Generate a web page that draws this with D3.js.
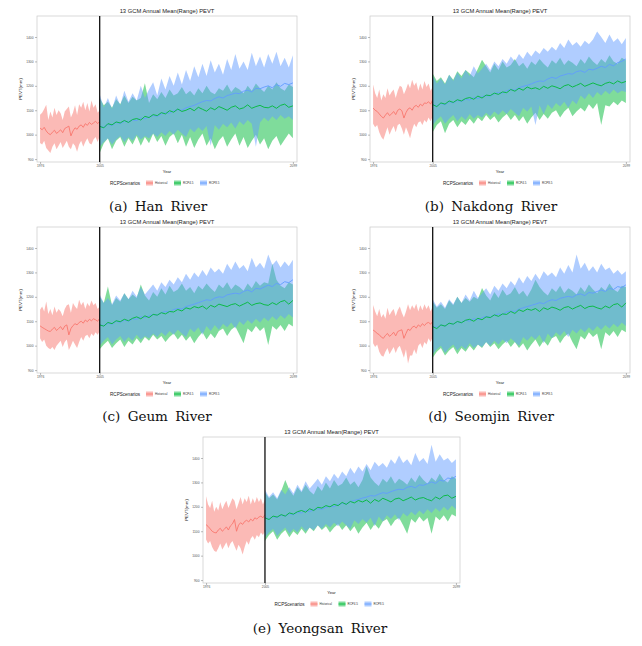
<!DOCTYPE html>
<html><head><meta charset="utf-8">
<script src="https://cdn.jsdelivr.net/npm/d3@7"></script>
<style>body{margin:0;background:#fff}svg{display:block}</style>
</head><body>
<svg id="c" width="642" height="646"></svg>
<script>
const histYears = d3.range(1976, 2006);
const futYears = d3.range(2005, 2100, 2);
const xTicks = [1976, 2005, 2099];
const yTicks = [900, 1000, 1100, 1200, 1300, 1400];
const scenarios = ["Historical", "RCP4.5", "RCP8.5"];
const scenColors = ["#F8766D", "#00BA38", "#619CFF"];
const chartTitle = "13 GCM Annual Mean(Range) PEVT";
const captions = ["(a) Han River", "(b) Nakdong River", "(c) Geum River", "(d) Seomjin River", "(e) Yeongsan River"];

// (a) Han River
const hanHistMean = [1027,1020,1030,1015,1005,1000,1010,1018,1005,1012,1020,1008,1025,1030,1035,995,1015,1028,1022,1035,1040,1030,1045,1038,1050,1042,1048,1055,1045,1054];
const hanHistLo = [966,960,975,945,935,925,950,965,940,955,970,945,960,975,950,940,965,955,930,960,975,950,970,985,965,960,980,990,970,995];
const hanHistHi = [1082,1090,1105,1122,1060,1095,1070,1110,1080,1100,1088,1060,1095,1105,1115,1070,1090,1120,1080,1125,1110,1135,1100,1130,1095,1140,1110,1125,1090,1100];
const hanR45Mean = [1034,1028,1045,1040,1052,1048,1058,1050,1062,1066,1060,1075,1070,1082,1078,1090,1085,1098,1092,1105,1095,1100,1108,1098,1112,1104,1096,1110,1102,1115,1108,1100,1112,1118,1105,1110,1122,1108,1115,1120,1112,1110,1118,1108,1120,1125,1112,1118];
const hanR45Lo = [925,965,985,940,975,990,950,985,960,995,955,990,965,1005,970,995,955,990,1005,965,1000,950,990,945,980,1005,955,985,940,975,995,950,980,1005,955,990,945,975,1000,960,985,940,975,995,955,980,1005,985];
const hanR45Hi = [1150,1120,1135,1110,1145,1125,1160,1130,1155,1140,1150,1211,1130,1165,1145,1175,1150,1185,1160,1170,1195,1165,1180,1160,1190,1170,1200,1175,1165,1190,1180,1205,1175,1195,1185,1170,1200,1180,1210,1190,1175,1200,1185,1215,1190,1180,1205,1195];
const hanR85Mean = [1034,1030,1042,1038,1050,1045,1055,1052,1060,1058,1068,1065,1072,1078,1075,1085,1090,1088,1098,1102,1100,1110,1115,1120,1128,1135,1140,1138,1148,1155,1150,1160,1165,1170,1168,1178,1182,1175,1190,1188,1195,1200,1192,1205,1198,1210,1205,1212];
const hanR85Lo = [950,970,985,960,980,995,970,990,975,1000,980,995,985,1005,990,1010,995,1015,1000,1020,1005,990,1025,1010,1030,1015,1035,955,1040,1020,1045,1030,1050,1025,1055,1040,1060,1045,950,1050,1070,1055,1075,1060,1080,1065,1075,1060];
const hanR85Hi = [1165,1110,1150,1105,1160,1120,1180,1135,1170,1140,1200,1150,1185,1215,1160,1230,1185,1240,1200,1255,1205,1265,1220,1280,1235,1290,1240,1305,1255,1290,1245,1310,1265,1330,1270,1300,1265,1335,1280,1320,1275,1330,1290,1340,1280,1315,1275,1325];

// (b) Nakdong River
const nakHistMean = [1109,1100,1095,1085,1075,1068,1080,1090,1078,1085,1095,1082,1100,1105,1098,1068,1090,1105,1110,1100,1115,1120,1112,1125,1118,1130,1128,1135,1125,1143];
const nakHistLo = [1045,1030,1040,1010,990,979,1005,1030,1000,1020,1035,1010,1040,1045,1025,1000,1030,1010,985,1020,1045,1030,1050,1055,1040,1060,1050,1070,1055,1075];
const nakHistHi = [1205,1170,1150,1185,1140,1165,1150,1190,1160,1175,1185,1150,1180,1200,1195,1165,1185,1210,1190,1225,1200,1215,1180,1210,1185,1220,1195,1210,1180,1195];
const nakR45Mean = [1123,1115,1130,1125,1138,1132,1143,1138,1148,1152,1145,1158,1150,1162,1160,1170,1165,1175,1172,1185,1178,1190,1182,1195,1188,1192,1185,1198,1190,1200,1195,1188,1200,1205,1195,1202,1210,1198,1205,1212,1205,1200,1210,1215,1208,1220,1212,1218];
const nakR45Lo = [1010,1040,1055,1006,1045,1060,1030,1055,1040,1065,1045,1070,1055,1080,1060,1075,1050,1070,1085,1060,1080,1055,1075,1045,1070,1090,1060,1085,1065,1090,1100,1070,1095,1110,1075,1095,1110,1095,1125,1105,1130,1040,1120,1115,1135,1120,1140,1130];
const nakR45Hi = [1250,1220,1235,1210,1245,1225,1260,1240,1265,1250,1235,1270,1307,1280,1255,1290,1265,1300,1275,1285,1310,1280,1295,1270,1300,1285,1310,1290,1275,1305,1290,1315,1285,1305,1295,1280,1310,1290,1320,1300,1285,1310,1295,1325,1300,1290,1315,1305];
const nakR85Mean = [1123,1118,1128,1122,1135,1130,1140,1136,1145,1142,1152,1148,1155,1160,1158,1168,1172,1170,1180,1185,1182,1192,1198,1202,1208,1215,1220,1218,1228,1235,1230,1240,1245,1250,1248,1258,1262,1255,1268,1265,1272,1280,1275,1288,1282,1295,1300,1310];
const nakR85Lo = [1040,1060,1075,1045,1065,1080,1055,1075,1060,1085,1065,1080,1070,1090,1075,1095,1080,1100,1085,1105,1090,1075,1110,1095,1115,1040,1120,1085,1125,1105,1130,1115,1135,1110,1140,1125,1160,1145,1170,1150,1175,1160,1180,1165,1185,1170,1180,1175];
const nakR85Hi = [1240,1210,1230,1205,1245,1220,1255,1230,1265,1240,1280,1250,1270,1290,1265,1300,1280,1310,1290,1320,1300,1330,1310,1340,1320,1345,1330,1355,1340,1360,1345,1375,1355,1390,1365,1380,1360,1385,1370,1390,1423,1400,1375,1410,1380,1395,1370,1396];

// (c) Geum River
const geuHistMean = [1081,1075,1070,1065,1060,1058,1068,1075,1062,1070,1078,1065,1080,1085,1044,1070,1082,1090,1085,1095,1100,1092,1105,1098,1108,1102,1110,1106,1100,1112];
const geuHistLo = [1030,1015,1025,1000,990,985,995,982,1000,1010,1020,995,1015,1025,982,1000,1020,1005,990,1015,1035,1020,1040,1045,1030,1050,1040,1055,1045,1060];
const geuHistHi = [1147,1160,1140,1181,1130,1150,1125,1160,1135,1150,1140,1120,1150,1165,1170,1135,1175,1160,1150,1188,1165,1180,1150,1175,1160,1185,1165,1175,1150,1160];
const geuR45Mean = [1085,1080,1095,1090,1102,1098,1108,1102,1112,1118,1110,1122,1115,1128,1125,1135,1130,1140,1138,1148,1142,1155,1150,1160,1155,1162,1150,1165,1158,1170,1165,1160,1168,1172,1162,1170,1178,1165,1172,1175,1168,1165,1176,1168,1180,1185,1170,1185];
const geuR45Lo = [985,1005,1020,990,1010,1025,995,1020,1005,1030,1010,1035,1020,1045,1025,1040,1015,1035,1050,1025,1045,1020,1040,1010,1035,1055,1025,1050,1030,1060,1070,1040,1065,1078,1045,1010,1070,1055,1080,1060,1075,1003,1080,1065,1085,1060,1090,1078];
const geuR45Hi = [1200,1175,1242,1165,1195,1180,1215,1190,1210,1195,1250,1205,1185,1220,1200,1235,1210,1245,1220,1230,1255,1225,1240,1215,1245,1230,1255,1235,1220,1250,1235,1260,1230,1250,1240,1225,1255,1235,1265,1245,1260,1255,1335,1270,1245,1235,1260,1250];
const geuR85Mean = [1085,1082,1092,1088,1100,1095,1105,1100,1110,1108,1118,1115,1122,1128,1125,1135,1140,1138,1148,1152,1150,1160,1165,1170,1176,1182,1188,1185,1195,1200,1198,1208,1212,1215,1212,1222,1228,1220,1235,1232,1240,1248,1242,1255,1250,1262,1258,1270];
const geuR85Lo = [1000,1020,1035,1005,1025,1040,1015,1035,1020,1045,1025,1040,1030,1050,1035,1055,1040,1060,1045,1065,1050,1035,1070,1055,1075,1045,1080,1060,1085,1065,1090,1075,1095,1070,1100,1085,1105,1090,1110,1095,1115,1100,1120,1105,1125,1110,1130,1115];
const geuR85Hi = [1210,1175,1195,1170,1205,1185,1215,1190,1225,1200,1240,1210,1230,1250,1225,1260,1240,1270,1250,1280,1260,1295,1270,1300,1280,1310,1285,1320,1300,1315,1295,1335,1310,1345,1315,1330,1305,1360,1320,1340,1315,1373,1330,1350,1320,1345,1325,1352];

// (d) Seomjin River
const seoHistMean = [1064,1058,1050,1045,1035,1030,1042,1050,1038,1045,1055,1040,1058,1062,1065,1030,1050,1068,1062,1075,1080,1072,1085,1078,1090,1082,1092,1095,1088,1099];
const seoHistLo = [1010,995,1005,975,960,955,975,990,965,980,995,970,990,1000,975,950,985,927,960,960,985,965,1000,1010,990,1015,1005,1030,1015,1035];
const seoHistHi = [1167,1140,1120,1150,1115,1130,1110,1155,1125,1140,1150,1120,1145,1160,1135,1115,1140,1170,1145,1165,1150,1172,1140,1165,1145,1170,1150,1165,1140,1160];
const seoR45Mean = [1078,1070,1085,1080,1092,1088,1099,1094,1104,1108,1100,1112,1106,1118,1115,1126,1120,1130,1128,1140,1132,1147,1140,1150,1145,1152,1140,1155,1148,1158,1153,1145,1156,1160,1150,1158,1165,1152,1160,1162,1155,1150,1162,1155,1168,1172,1158,1175];
const seoR45Lo = [950,975,990,960,980,995,965,990,975,1000,980,1005,990,1015,995,1010,985,1005,1020,995,1015,990,1010,980,1005,1025,995,1020,1000,1030,1040,1010,1035,1050,1015,985,1040,1025,1055,1035,1050,985,1055,1040,1060,1035,1065,1055];
const seoR45Hi = [1180,1155,1170,1150,1185,1165,1200,1175,1195,1180,1200,1190,1236,1205,1185,1220,1195,1230,1205,1215,1240,1210,1225,1200,1230,1270,1240,1220,1205,1235,1220,1245,1215,1235,1225,1210,1240,1220,1250,1230,1215,1240,1225,1255,1230,1220,1245,1240];
const seoR85Mean = [1078,1075,1085,1080,1092,1088,1098,1094,1104,1100,1110,1106,1114,1120,1116,1126,1130,1128,1138,1142,1140,1150,1155,1160,1165,1170,1176,1172,1182,1188,1185,1194,1198,1202,1198,1208,1212,1205,1218,1215,1222,1228,1222,1235,1230,1242,1238,1249];
const seoR85Lo = [965,985,1000,970,990,1005,980,1000,985,1010,990,1005,995,1015,1000,1020,1005,1025,1010,1030,1015,1000,1035,1020,1040,1025,1045,1010,1050,1030,1055,1040,1060,1035,1065,1050,1070,1055,1075,1060,1080,1065,1085,1070,1090,1075,1095,1080];
const seoR85Hi = [1190,1160,1180,1155,1190,1170,1200,1175,1210,1185,1225,1195,1215,1235,1210,1245,1225,1255,1235,1265,1245,1280,1255,1285,1265,1295,1270,1305,1285,1300,1280,1320,1295,1330,1300,1373,1315,1340,1305,1325,1300,1335,1310,1320,1295,1310,1290,1305];

// (e) Yeongsan River
const yeoHistMean = [1127,1120,1110,1100,1095,1093,1105,1112,1100,1108,1118,1105,1122,1130,1148,1100,1125,1135,1128,1140,1145,1138,1150,1142,1155,1150,1158,1162,1155,1168];
const yeoHistLo = [1066,1050,1060,1035,1020,1015,1030,1050,1025,1040,1055,1030,1050,1060,1040,1020,1045,1030,1005,1035,1060,1045,1070,1080,1065,1085,1075,1095,1085,1100];
const yeoHistHi = [1243,1210,1195,1225,1180,1200,1185,1220,1190,1210,1225,1195,1215,1235,1225,1190,1215,1240,1210,1235,1220,1245,1210,1235,1215,1240,1220,1235,1210,1230];
const yeoR45Mean = [1155,1148,1162,1158,1168,1162,1175,1170,1180,1185,1178,1192,1185,1198,1195,1205,1200,1210,1205,1218,1210,1222,1216,1226,1220,1228,1215,1230,1222,1235,1228,1220,1232,1236,1225,1232,1240,1228,1235,1238,1230,1225,1240,1232,1245,1248,1235,1243];
const yeoR45Lo = [1060,1085,1100,1065,1090,1105,1075,1100,1085,1110,1090,1115,1100,1125,1105,1120,1095,1115,1130,1105,1125,1100,1120,1090,1115,1135,1105,1130,1110,1140,1150,1120,1145,1155,1125,1090,1150,1135,1160,1140,1155,1090,1160,1145,1165,1140,1170,1160];
const yeoR45Hi = [1260,1235,1250,1230,1265,1310,1270,1245,1280,1260,1290,1265,1250,1285,1265,1300,1275,1310,1285,1295,1320,1290,1305,1280,1310,1366,1320,1300,1285,1315,1300,1325,1295,1315,1305,1290,1320,1300,1330,1310,1295,1320,1305,1335,1310,1300,1325,1315];
const yeoR85Mean = [1155,1150,1160,1156,1166,1162,1172,1168,1178,1175,1185,1180,1188,1192,1190,1198,1202,1200,1210,1214,1212,1222,1226,1230,1236,1240,1246,1244,1252,1258,1255,1262,1268,1272,1270,1280,1284,1278,1290,1288,1295,1302,1296,1310,1305,1318,1315,1325];
const yeoR85Lo = [1075,1095,1110,1080,1100,1115,1090,1110,1095,1120,1100,1115,1105,1125,1110,1130,1115,1135,1120,1140,1125,1110,1145,1130,1150,1135,1155,1120,1160,1140,1165,1150,1170,1145,1175,1160,1180,1165,1185,1170,1190,1175,1195,1180,1200,1185,1205,1190];
const yeoR85Hi = [1270,1240,1260,1235,1270,1250,1280,1255,1290,1265,1305,1275,1295,1315,1290,1325,1305,1335,1315,1345,1325,1360,1335,1365,1345,1375,1350,1385,1365,1380,1360,1395,1375,1410,1380,1395,1370,1420,1385,1400,1375,1454,1385,1415,1390,1400,1380,1395];

const basinData = [
  {hist:[hanHistMean,hanHistLo,hanHistHi], r45:[hanR45Mean,hanR45Lo,hanR45Hi], r85:[hanR85Mean,hanR85Lo,hanR85Hi]},
  {hist:[nakHistMean,nakHistLo,nakHistHi], r45:[nakR45Mean,nakR45Lo,nakR45Hi], r85:[nakR85Mean,nakR85Lo,nakR85Hi]},
  {hist:[geuHistMean,geuHistLo,geuHistHi], r45:[geuR45Mean,geuR45Lo,geuR45Hi], r85:[geuR85Mean,geuR85Lo,geuR85Hi]},
  {hist:[seoHistMean,seoHistLo,seoHistHi], r45:[seoR45Mean,seoR45Lo,seoR45Hi], r85:[seoR85Mean,seoR85Lo,seoR85Hi]},
  {hist:[yeoHistMean,yeoHistLo,yeoHistHi], r45:[yeoR45Mean,yeoR45Lo,yeoR45Hi], r85:[yeoR85Mean,yeoR85Lo,yeoR85Hi]}
];

// layout (positions only)
const layout = [
  {x0:37,  x1:297, y0:16,  y1:162, capX:158, capY:211},
  {x0:370, x1:630, y0:16,  y1:162, capX:491, capY:211},
  {x0:37,  x1:297, y0:227, y1:373, capX:157, capY:421},
  {x0:370, x1:630, y0:227, y1:373, capX:491, capY:421},
  {x0:203, x1:460, y0:437, y1:583, capX:320, capY:633}
];

const svg = d3.select("#c");
const FONT = "Liberation Sans, Arial, sans-serif";
const ALPHA = 0.5;

layout.forEach((L, i) => {
  const D = basinData[i];
  const x = d3.scaleLinear().domain([1974.5, 2101]).range([L.x0, L.x1]);
  const y = d3.scaleLinear().domain([888, 1486]).range([L.y1, L.y0]);
  const g = svg.append("g");
  const cx = (L.x0 + L.x1) / 2;

  g.append("rect").attr("x", L.x0).attr("y", L.y0)
    .attr("width", L.x1 - L.x0).attr("height", L.y1 - L.y0)
    .attr("fill", "#fff").attr("stroke", "#c9c9c9").attr("stroke-width", 0.7);

  const series = [
    {years: histYears, d: D.hist, c: scenColors[0]},
    {years: futYears, d: D.r45, c: scenColors[1]},
    {years: futYears, d: D.r85, c: scenColors[2]}
  ];
  series.forEach(s => {
    const pts = s.years.map((yr, k) => ({yr, m: s.d[0][k], lo: s.d[1][k], hi: s.d[2][k]}));
    g.append("path").datum(pts)
      .attr("d", d3.area().x(p => x(p.yr)).y0(p => y(p.lo)).y1(p => y(p.hi)))
      .attr("fill", s.c).attr("fill-opacity", ALPHA);
  });
  [series[0], series[2], series[1]].forEach(s => {
    const pts = s.years.map((yr, k) => ({yr, m: s.d[0][k]}));
    g.append("path").datum(pts)
      .attr("d", d3.line().x(p => x(p.yr)).y(p => y(p.m)))
      .attr("fill", "none").attr("stroke", s.c).attr("stroke-width", 0.9);
  });

  g.append("line").attr("x1", x(2005)).attr("x2", x(2005))
    .attr("y1", L.y0).attr("y2", L.y1).attr("stroke", "#111").attr("stroke-width", 1.3);

  const ya = g.append("g").attr("transform", `translate(${L.x0},0)`)
    .call(d3.axisLeft(y).tickValues(yTicks).tickFormat(d3.format("d")).tickSize(2).tickPadding(1.5));
  const xa = g.append("g").attr("transform", `translate(0,${L.y1})`)
    .call(d3.axisBottom(x).tickValues(xTicks).tickFormat(d3.format("d")).tickSize(2).tickPadding(1));
  [ya, xa].forEach(a => {
    a.select(".domain").remove();
    a.selectAll("line").attr("stroke", "#777").attr("stroke-width", 0.5);
    a.selectAll("text").attr("font-size", 3.3).attr("fill", "#555").attr("font-family", FONT);
  });

  g.append("text").attr("x", cx).attr("y", L.y0 - 3).attr("text-anchor", "middle")
    .attr("font-family", FONT).attr("font-size", 5.8).attr("fill", "#222").text(chartTitle);
  g.append("text").attr("x", cx).attr("y", L.y1 + 11).attr("text-anchor", "middle")
    .attr("font-family", FONT).attr("font-size", 4.2).attr("fill", "#222").text("Year");
  g.append("text").attr("transform", `translate(${L.x0 - 15},${(L.y0 + L.y1) / 2}) rotate(-90)`)
    .attr("text-anchor", "middle").attr("font-family", FONT).attr("font-size", 4.4)
    .attr("fill", "#222").text("PEVT(mm)");

  const ly = L.y1 + 21;
  g.append("text").attr("x", cx - 57).attr("y", ly + 1.6).attr("font-family", FONT)
    .attr("font-size", 4.6).attr("fill", "#222").text("RCPScenarios");
  const kx = [cx - 21, cx + 7, cx + 33];
  scenarios.forEach((s, k) => {
    g.append("rect").attr("x", kx[k]).attr("y", ly - 2.5).attr("width", 7).attr("height", 5)
      .attr("fill", scenColors[k]).attr("fill-opacity", ALPHA);
    g.append("line").attr("x1", kx[k]).attr("x2", kx[k] + 7).attr("y1", ly).attr("y2", ly)
      .attr("stroke", scenColors[k]).attr("stroke-width", 0.9);
    g.append("text").attr("x", kx[k] + 9).attr("y", ly + 1.1).attr("font-family", FONT)
      .attr("font-size", 3).attr("fill", "#333").text(s);
  });

  g.append("text").attr("x", L.capX).attr("y", L.capY).attr("text-anchor", "middle")
    .attr("font-family", "DejaVu Serif, serif").attr("font-size", 13.5)
    .attr("word-spacing", 3).attr("fill", "#111").text(captions[i]);
});
</script>
</body></html>
